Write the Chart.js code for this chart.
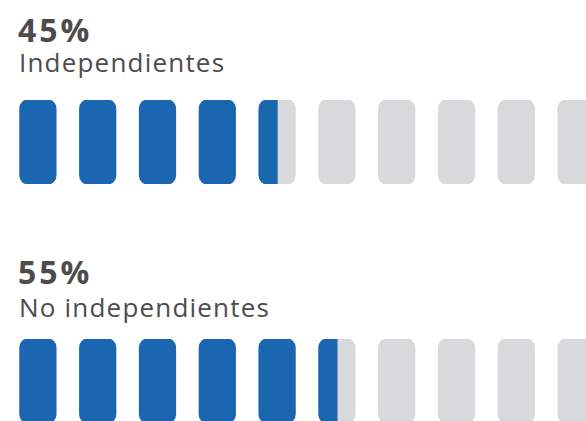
<!DOCTYPE html>
<html>
<head>
<meta charset="utf-8">
<script src="https://cdn.jsdelivr.net/npm/chart.js@4"></script>
<style>
    html, body { margin: 0; padding: 0; background: #fff; overflow: hidden; width: 586px; height: 421px; }
    .pct, .lbl { position: absolute; left: 19px; color: #4d4b4c; font-family: "Open Sans", sans-serif; white-space: nowrap; line-height: 1; }
    .pct { font-weight: 700; font-size: 32px; letter-spacing: 3px; left: 18px; }
    .lbl { font-size: 26px; letter-spacing: 1.2px; }
    canvas { position: absolute; left: 0; }
</style>
</head>
<body>
<div class="pct" id="pct-0" style="top:14px"></div>
<div class="lbl" id="lbl-0" style="top:49px"></div>
<canvas id="row-0" width="606" height="86" style="top:99px"></canvas>

<div class="pct" id="pct-1" style="top:256px"></div>
<div class="lbl" id="lbl-1" style="top:294px"></div>
<canvas id="row-1" width="606" height="86" style="top:338px"></canvas>

<script>
const labels = ["Independientes", "No independientes"];
const percents = [45, 55];
const unitLabels = ["10%", "20%", "30%", "40%", "50%", "60%", "70%", "80%", "90%", "100%"];

const blue = "#1a66b0";
const grey = "#d8d9db";

labels.forEach((label, r) => {
    const pct = percents[r];
    document.getElementById("pct-" + r).textContent = pct + "%";
    document.getElementById("lbl-" + r).textContent = label;

    // each icon is split in a left and right half, filled blue up to the value
    const leftColors = unitLabels.map((u, i) => pct >= i * 10 + 5 ? blue : grey);
    const rightColors = unitLabels.map((u, i) => pct >= i * 10 + 10 ? blue : grey);

    new Chart(document.getElementById("row-" + r).getContext("2d"), {
        type: 'bar',
        data: {
            labels: unitLabels,
            datasets: [
                {
                    data: unitLabels.map(() => 1),
                    backgroundColor: leftColors,
                    borderRadius: { topLeft: 10, bottomLeft: 10, topRight: 0, bottomRight: 0 },
                    borderSkipped: false
                },
                {
                    data: unitLabels.map(() => 1),
                    backgroundColor: rightColors,
                    borderRadius: { topLeft: 0, bottomLeft: 0, topRight: 10, bottomRight: 10 },
                    borderSkipped: false
                }
            ]
        },
        options: {
            responsive: false,
            animation: false,
            devicePixelRatio: 1,
            layout: { padding: { left: 8, right: 0, top: 1, bottom: 1 } },
            datasets: { bar: { categoryPercentage: 0.603, barPercentage: 1, inflateAmount: 0.6 } },
            scales: {
                x: { display: false },
                y: { display: false, min: 0, max: 1 }
            },
            plugins: {
                legend: { display: false },
                tooltip: { enabled: false }
            }
        }
    });
});
</script>
</body>
</html>
